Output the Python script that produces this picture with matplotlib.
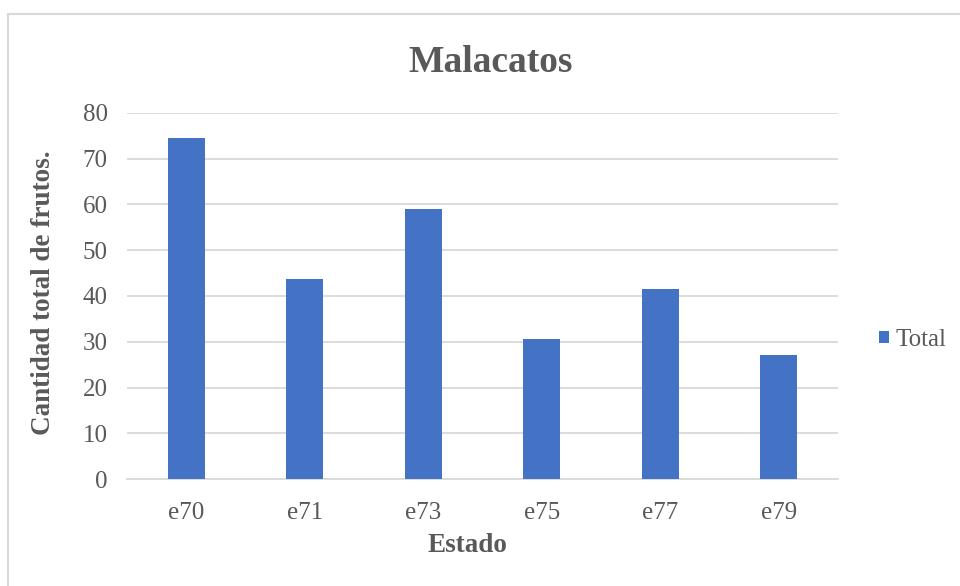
import matplotlib.pyplot as plt
from matplotlib.patches import Rectangle

# Cantidad total de frutos por estado
estados = ['e70', 'e71', 'e73', 'e75', 'e77', 'e79']
total = [74.4, 43.7, 58.9, 30.6, 41.5, 27.2]
yticks = [0, 10, 20, 30, 40, 50, 60, 70, 80]

gray_text = '#595959'
grid_color = '#d9d9d9'
bar_color = '#4472C4'

plt.rcParams['font.family'] = ['Liberation Serif', 'DejaVu Serif']

W, H = 960, 586
fig = plt.figure(figsize=(W / 100, H / 100), dpi=100)
ax = fig.add_axes([127 / W, 1 - 479.3 / H, (838 - 127) / W, (479.3 - 112.7) / H])

x = range(len(estados))
ax.bar(x, total, width=0.31, color=bar_color, zorder=3, label='Total')

ax.set_xlim(-0.5, len(estados) - 0.5)
ax.set_ylim(0, 80)
ax.set_yticks(yticks)
ax.set_xticks(list(x))
ax.set_xticklabels(estados)
ax.yaxis.grid(True, color=grid_color, linewidth=1.3, zorder=0)
ax.tick_params(length=0, labelsize=18, colors=gray_text)
ax.tick_params(axis='x', pad=16)
ax.tick_params(axis='y', pad=14)
for side in ['left', 'right', 'top']:
    ax.spines[side].set_visible(False)
ax.spines['bottom'].set_color(grid_color)
ax.spines['bottom'].set_linewidth(1.3)

# titulo y etiquetas
fig.text(491 / W, 1 - 62 / H, 'Malacatos', ha='center', va='center',
         fontsize=27, fontweight='bold', color=gray_text)
fig.text(467 / W, 1 - 545 / H, 'Estado', ha='center', va='center',
         fontsize=19.5, fontweight='bold', color=gray_text)
fig.text(44 / W, 1 - 293 / H, 'Cantidad total de frutos.', ha='center', va='center',
         rotation=90, fontsize=19.5, fontweight='bold', color=gray_text)

# leyenda
leg = ax.legend(loc='center left', bbox_to_anchor=(879 / W, 1 - 340 / H),
                bbox_transform=fig.transFigure, frameon=False, fontsize=18,
                borderpad=0, borderaxespad=0,
                handlelength=0.38, handleheight=0.38, handletextpad=0.3)
for t in leg.get_texts():
    t.set_color(gray_text)

# marco del grafico
fig.patches.append(Rectangle((8 / W, -0.1), 1.1, 1 - 13.5 / H + 0.1,
                             transform=fig.transFigure, fill=False,
                             edgecolor=grid_color, linewidth=1.5))

fig.savefig('out.png', dpi=100)
